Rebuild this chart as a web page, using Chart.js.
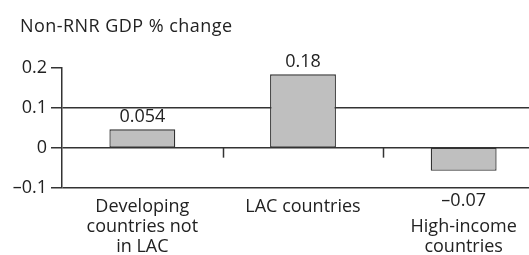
<!DOCTYPE html>
<html><head><meta charset="utf-8">
<script src="https://cdn.jsdelivr.net/npm/chart.js@4"></script>
<style>html,body{margin:0;padding:0;overflow:hidden;background:#fff}
#wrap{position:relative;width:546px;height:255px}</style>
</head><body><div id="wrap"><canvas id="c"></canvas></div>
<script>
const categories = [["Developing","countries not","in LAC"],["LAC countries"],["","High-income","countries"]];
const values = [0.046, 0.184, -0.058];
const valueLabels = ["0.054","0.18","\u20130.07"];
const yTickLabels = ["\u20130.1","0","0.1","0.2"];
const titleText = "Non-RNR GDP % change";

const FONT = "'Open Sans', sans-serif";
const INK = '#333';
const TXT = '#222';
Chart.defaults.font.family = FONT;
Chart.defaults.font.size = 18;
Chart.defaults.color = TXT;

const extras = {
  id: 'extras',
  afterDraw(chart) {
    const ctx = chart.ctx;
    const x = chart.scales.x, y = chart.scales.y;
    ctx.save();
    // title
    ctx.fillStyle = TXT;
    ctx.font = "18px " + FONT;
    ctx.textAlign = 'left';
    ctx.textBaseline = 'alphabetic';
    if ('letterSpacing' in ctx) ctx.letterSpacing = '0.45px';
    ctx.fillText(titleText, 20, 32);
    if ('letterSpacing' in ctx) ctx.letterSpacing = '0px';
    // category separator ticks on the zero line
    const y0 = y.getPixelForValue(0);
    ctx.strokeStyle = INK;
    ctx.lineWidth = 1.5;
    for (let i = 0; i < categories.length - 1; i++) {
      const px = Math.round(x.getPixelForValue(i + 0.5)) + 0.5;
      ctx.beginPath();
      ctx.moveTo(px, y0);
      ctx.lineTo(px, y0 + 10);
      ctx.stroke();
    }
    // value labels
    const meta = chart.getDatasetMeta(0);
    ctx.textAlign = 'center';
    meta.data.forEach((bar, i) => {
      if (values[i] >= 0) {
        ctx.textBaseline = 'alphabetic';
        ctx.fillText(valueLabels[i], bar.x, bar.y - 7);
      } else {
        ctx.textBaseline = 'middle';
        ctx.fillText(valueLabels[i], bar.x, x.top + 13);
      }
    });
    ctx.restore();
  }
};

new Chart(document.getElementById('c'), {
  type: 'bar',
  data: {
    labels: categories,
    datasets: [{
      data: values,
      backgroundColor: '#bfbfbf',
      borderColor: INK,
      borderWidth: 1.3,
      borderSkipped: false,
      categoryPercentage: 1,
      barPercentage: 0.41
    }]
  },
  options: {
    responsive: true,
    maintainAspectRatio: false,
    animation: false,
    devicePixelRatio: 1,
    layout: { padding: { top: 68, left: 0, right: 2, bottom: 0 } },
    plugins: { legend: { display: false }, title: { display: false }, tooltip: { enabled: false } },
    scales: {
      x: {
        grid: { display: false, drawTicks: false },
        border: { display: false },
        ticks: { padding: 9, color: TXT, font: { size: 18, lineHeight: 1.12 }, maxRotation: 0, autoSkip: false },
        afterFit: s => { s.height = 67.5; }
      },
      y: {
        min: -0.1, max: 0.2,
        ticks: { stepSize: 0.1, padding: 4, color: TXT, font: { size: 18 }, callback: (v, i) => yTickLabels[i] },
        grid: {
          color: c => (c.tick && c.tick.value > 0.15) ? 'rgba(0,0,0,0)' : INK,
          tickColor: INK, lineWidth: 1.5, tickLength: 11, drawTicks: true
        },
        border: { display: true, color: INK, width: 1.5 },
        afterFit: s => { s.width = 62; }
      }
    }
  },
  plugins: [extras]
});
</script></body></html>
